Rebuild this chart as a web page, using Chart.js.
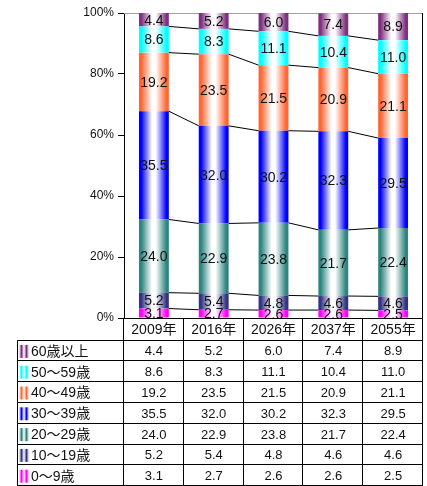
<!DOCTYPE html>
<html>
<head>
<meta charset="utf-8">
<script src="https://cdn.jsdelivr.net/npm/chart.js@4.4.1/dist/chart.umd.min.js"></script>
<style>
    body { margin: 0; background: #fff; }
    #caixa { width: 427px; height: 486px; position: relative; }
</style>
</head>
<body>
<div id="caixa"><canvas id="graficoIdades"></canvas></div>
<script>
var anos = ['2009年', '2016年', '2026年', '2037年', '2055年'];

// percentages per age group, bottom of the stack first
var idade0a9 = [3.1, 2.7, 2.6, 2.6, 2.5];
var idade10a19 = [5.2, 5.4, 4.8, 4.6, 4.6];
var idade20a29 = [24.0, 22.9, 23.8, 21.7, 22.4];
var idade30a39 = [35.5, 32.0, 30.2, 32.3, 29.5];
var idade40a49 = [19.2, 23.5, 21.5, 20.9, 21.1];
var idade50a59 = [8.6, 8.3, 11.1, 10.4, 11.0];
var idade60mais = [4.4, 5.2, 6.0, 7.4, 8.9];

var nomesSeries = ['0～9歳', '10～19歳', '20～29歳', '30～39歳', '40～49歳', '50～59歳', '60歳以上'];
var coresSeries = ['#ff00ff', '#333385', '#2e8580', '#0000ff', '#ff6633', '#00ffff', '#7f2f7f'];
var ticksY = [0, 20, 40, 60, 80, 100];

var valoresSeries = [idade0a9, idade10a19, idade20a29, idade30a39, idade40a49, idade50a59, idade60mais];

var fonteNum = '"Liberation Sans", "Noto Sans CJK JP", sans-serif';

function gradienteBarra(cor) {
    return function (ctx) {
        var chart = ctx.chart;
        var area = chart.chartArea;
        if (!area || ctx.dataIndex === undefined) {
            return cor;
        }
        var cx = chart.scales.x.getPixelForValue(ctx.dataIndex);
        var meia = area.width / anos.length * 0.5 / 2;
        var g = chart.ctx.createLinearGradient(cx - meia, 0, cx + meia, 0);
        g.addColorStop(0, cor);
        g.addColorStop(0.08, cor);
        g.addColorStop(0.44, '#ffffff');
        g.addColorStop(0.56, '#ffffff');
        g.addColorStop(0.92, cor);
        g.addColorStop(1, cor);
        return g;
    };
}

// frame on top and right of the plot
var moldura = {
    id: 'moldura',
    beforeDatasetsDraw: function (chart) {
        var c = chart.ctx, a = chart.chartArea;
        c.save();
        c.lineWidth = 1;
        c.strokeStyle = '#a0a0a0';
        c.beginPath();
        c.moveTo(a.left, a.top + 0.5);
        c.lineTo(a.right, a.top + 0.5);
        c.stroke();
        c.strokeStyle = '#000';
        c.beginPath();
        c.moveTo(a.right - 0.5, a.top);
        c.lineTo(a.right - 0.5, a.bottom);
        c.stroke();
        c.restore();
    }
};

// lines joining the segment tops between bars, then the values inside the segments
var ligacoes = {
    id: 'ligacoes',
    afterDatasetsDraw: function (chart) {
        var c = chart.ctx, a = chart.chartArea;
        c.save();
        c.strokeStyle = '#000';
        c.lineWidth = 1;
        for (var k = 0; k < valoresSeries.length - 1; k++) {
            var meta = chart.getDatasetMeta(k);
            for (var i = 0; i < meta.data.length - 1; i++) {
                var el = meta.data[i], prox = meta.data[i + 1];
                c.beginPath();
                c.moveTo(el.x + el.width / 2, el.y);
                c.lineTo(prox.x - prox.width / 2, prox.y);
                c.stroke();
            }
        }

        c.beginPath();
        c.rect(a.left, a.top, a.right - a.left, a.bottom - a.top);
        c.clip();
        c.fillStyle = '#111';
        c.font = '14px ' + fonteNum;
        c.textAlign = 'center';
        c.textBaseline = 'middle';
        for (var k = 0; k < valoresSeries.length; k++) {
            var meta = chart.getDatasetMeta(k);
            meta.data.forEach(function (el, i) {
                c.fillText(valoresSeries[k][i].toFixed(1), el.x, (el.y + el.base) / 2 + 1);
            });
        }
        c.restore();
    }
};

// data table under the plot
var tabela = {
    id: 'tabela',
    afterDraw: function (chart) {
        var c = chart.ctx, a = chart.chartArea;
        var larg = (a.right - a.left) / anos.length;
        var topoCab = a.bottom;
        var fimCab = a.bottom + 22.5;
        var altLinha = 20.8;
        var esq = 17.5;
        var fim = fimCab + altLinha * valoresSeries.length;

        c.save();
        c.strokeStyle = '#000';
        c.lineWidth = 1;
        c.beginPath();
        // x axis
        c.moveTo(a.left, topoCab + 0.5);
        c.lineTo(a.right, topoCab + 0.5);
        // horizontal rows
        for (var r = 0; r <= valoresSeries.length; r++) {
            var y = Math.round(fimCab + altLinha * r) - 0.5;
            c.moveTo(esq, y);
            c.lineTo(a.right, y);
        }
        // vertical columns
        for (var j = 0; j <= anos.length; j++) {
            var x = Math.round(a.left + larg * j) - 0.5;
            c.moveTo(x, topoCab);
            c.lineTo(x, fim);
        }
        c.moveTo(esq, fimCab);
        c.lineTo(esq, fim);
        c.stroke();

        c.fillStyle = '#111';
        c.textBaseline = 'middle';
        c.textAlign = 'center';
        c.font = '14px ' + fonteNum;
        anos.forEach(function (ano, j) {
            c.fillText(ano, a.left + larg * (j + 0.5), (topoCab + fimCab) / 2 + 1);
        });

        for (var r = 0; r < valoresSeries.length; r++) {
            var s = valoresSeries.length - 1 - r;
            var yc = fimCab + altLinha * (r + 0.5);
            c.font = '13px ' + fonteNum;
            for (var j = 0; j < anos.length; j++) {
                c.textAlign = 'center';
                c.fillText(valoresSeries[s][j].toFixed(1), a.left + larg * (j + 0.5), yc + 1);
            }
            // legend key
            var g = c.createLinearGradient(19, 0, 29, 0);
            g.addColorStop(0, '#ffffff');
            g.addColorStop(0.25, coresSeries[s]);
            g.addColorStop(0.5, '#ffffff');
            g.addColorStop(0.75, coresSeries[s]);
            g.addColorStop(1, '#ffffff');
            c.fillStyle = g;
            c.fillRect(19, yc - 6, 10, 13);
            c.fillStyle = '#111';
            c.textAlign = 'left';
            c.font = '14px ' + fonteNum;
            c.fillText(nomesSeries[s], 31, yc + 1);
        }
        c.restore();
    }
};

var conjuntos = valoresSeries.map(function (valores, k) {
    return {
        label: nomesSeries[k],
        data: valores,
        backgroundColor: gradienteBarra(coresSeries[k]),
        borderWidth: 0,
        barPercentage: 0.5,
        categoryPercentage: 1.0
    };
});

var graficoIdades = new Chart(document.getElementById('graficoIdades'), {
    type: 'bar',
    data: { labels: anos, datasets: conjuntos },
    options: {
        responsive: true,
        maintainAspectRatio: false,
        animation: false,
        layout: { padding: { left: 0, right: 4, top: 13, bottom: 168 } },
        plugins: {
            legend: { display: false },
            tooltip: { enabled: false }
        },
        scales: {
            x: { stacked: true, display: false },
            y: {
                stacked: true,
                min: 0,
                max: 100,
                afterBuildTicks: function (s) {
                    s.ticks = ticksY.map(function (v) { return { value: v }; });
                },
                afterFit: function (s) { s.width = 124; },
                ticks: {
                    color: '#111',
                    font: { family: fonteNum, size: 12 },
                    padding: 4,
                    callback: function (v) { return v + '%'; }
                },
                grid: { drawOnChartArea: false, tickLength: 6, color: '#000' },
                border: { color: '#000' }
            }
        }
    },
    plugins: [moldura, ligacoes, tabela]
});
</script>
</body>
</html>
